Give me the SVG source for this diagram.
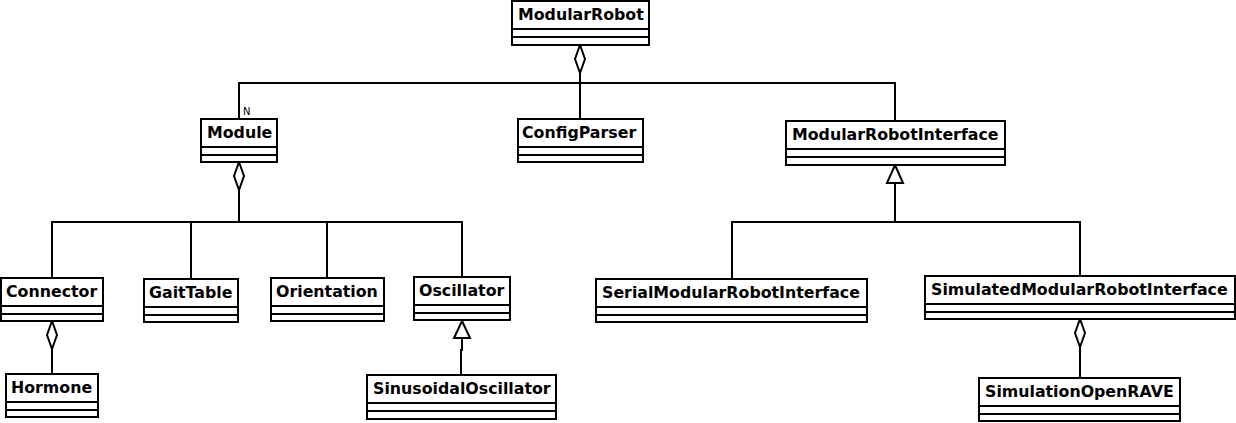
<svg xmlns="http://www.w3.org/2000/svg" width="1236" height="423" viewBox="0 0 1236 423">
<style>
.box{fill:#fff;stroke:#000;stroke-width:2}
.sep{stroke:#000;stroke-width:2}
.t{font-family:"DejaVu Sans",sans-serif;font-weight:bold;font-size:15.8px;fill:#000}
.c{fill:none;stroke:#000;stroke-width:2}
.dia{fill:#fff;stroke:#000;stroke-width:2}
.small{font-family:"DejaVu Sans",sans-serif;font-size:10px;fill:#000}
</style>
<rect width="1236" height="423" fill="#fff"/>
<g id="connectors">
<path class="c" d="M580 73 V84 M239 119 V83 H895 V121 M580 84 V119"/>
<polygon class="dia" points="580,45 585,59 580,73 575,59"/>
<text class="small" x="243" y="115">N</text>
<path class="c" d="M239 190 V222 M52 278 V222 H462 V277 M191 222 V279 M327 222 V278"/>
<polygon class="dia" points="239,162 244,176 239,190 234,176"/>
<path class="c" d="M52 349 V374"/>
<polygon class="dia" points="52,321 57,335 52,349 47,335"/>
<path class="c" d="M462 338 V350 H461 V375"/>
<polygon class="dia" points="462,321 470,338 454,338"/>
<path class="c" d="M895 183 V222 M732 279 V222 H1080 V276"/>
<polygon class="dia" points="895,165 903,183 887,183"/>
<path class="c" d="M1080 347 V378"/>
<polygon class="dia" points="1080,319 1085,333 1080,347 1075,333"/>
</g>
<g id="ModularRobot"><rect class="box" x="512" y="1" width="137" height="44"/><path class="sep" d="M512 29 H649 M512 37 H649"/><text class="t" x="518" y="20">ModularRobot</text></g>
<g id="Module"><rect class="box" x="201" y="119" width="76" height="43"/><path class="sep" d="M201 147 H277 M201 155 H277"/><text class="t" x="207" y="138">Module</text></g>
<g id="ConfigParser"><rect class="box" x="518" y="119" width="125" height="43"/><path class="sep" d="M518 147 H643 M518 155 H643"/><text class="t" x="522" y="138">ConfigParser</text></g>
<g id="ModularRobotInterface"><rect class="box" x="786" y="121" width="219" height="44"/><path class="sep" d="M786 149 H1005 M786 157 H1005"/><text class="t" x="792" y="140">ModularRobotInterface</text></g>
<g id="Connector"><rect class="box" x="1" y="278" width="102" height="43"/><path class="sep" d="M1 306 H103 M1 314 H103"/><text class="t" x="6" y="297">Connector</text></g>
<g id="GaitTable"><rect class="box" x="144" y="279" width="94" height="43"/><path class="sep" d="M144 307 H238 M144 315 H238"/><text class="t" x="149" y="298">GaitTable</text></g>
<g id="Orientation"><rect class="box" x="271" y="278" width="113" height="43"/><path class="sep" d="M271 306 H384 M271 314 H384"/><text class="t" x="276" y="297">Orientation</text></g>
<g id="Oscillator"><rect class="box" x="414" y="277" width="96" height="43"/><path class="sep" d="M414 305 H510 M414 313 H510"/><text class="t" x="419" y="296">Oscillator</text></g>
<g id="Hormone"><rect class="box" x="6" y="374" width="92" height="43"/><path class="sep" d="M6 402 H98 M6 410 H98"/><text class="t" x="11" y="393">Hormone</text></g>
<g id="SinusoidalOscillator"><rect class="box" x="367" y="375" width="189" height="44"/><path class="sep" d="M367 403 H556 M367 411 H556"/><text class="t" x="373" y="394">SinusoidalOscillator</text></g>
<g id="SerialModularRobotInterface"><rect class="box" x="596" y="279" width="271" height="43"/><path class="sep" d="M596 307 H867 M596 315 H867"/><text class="t" x="602" y="298">SerialModularRobotInterface</text></g>
<g id="SimulatedModularRobotInterface"><rect class="box" x="925" y="276" width="310" height="43"/><path class="sep" d="M925 304 H1235 M925 312 H1235"/><text class="t" x="931" y="295">SimulatedModularRobotInterface</text></g>
<g id="SimulationOpenRAVE"><rect class="box" x="979" y="378" width="201" height="43"/><path class="sep" d="M979 406 H1180 M979 414 H1180"/><text class="t" x="985" y="397">SimulationOpenRAVE</text></g>
</svg>
